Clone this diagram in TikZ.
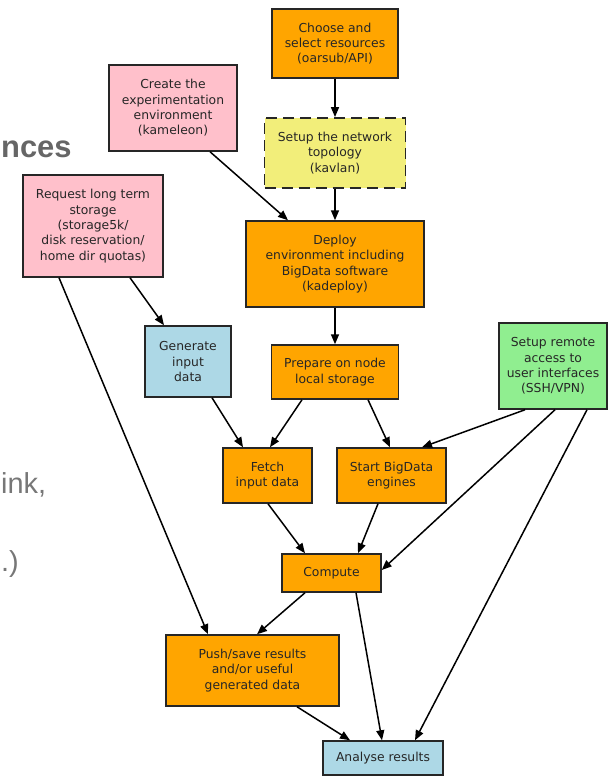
\documentclass[tikz,border=0pt]{standalone}
\usepackage{fontspec}
\setmainfont{DejaVu Sans}
\newfontfamily\slidefont{Liberation Sans}
\usetikzlibrary{arrows.meta}
\definecolor{boxorange}{HTML}{FFA500}
\definecolor{boxpink}{HTML}{FFC0CB}
\definecolor{boxblue}{HTML}{ADD8E6}
\definecolor{boxgreen}{HTML}{90EE90}
\definecolor{boxyellow}{HTML}{F2EE7A}
\definecolor{slidegray}{HTML}{666666}
\definecolor{slidegraylight}{HTML}{777777}
\tikzset{
  box/.style={draw=black!85, line width=1.5bp, align=center, inner sep=2bp,
    font=\fontsize{12.4}{15.4}\selectfont, text=black!85},
  arr/.style={draw=black, line width=1.5bp, -{Triangle[length=10bp,width=8bp]}},
  slidetext/.style={inner sep=0pt, anchor=base west, text=slidegraylight,
    font=\slidefont\fontsize{29}{34}\selectfont},
}
\begin{document}
\begin{tikzpicture}[x=1bp, y=-1bp]
\useasboundingbox (0,0) rectangle (609,776);

% slide text fragments
\node[slidetext, text=slidegray, font=\slidefont\bfseries\fontsize{31}{36}\selectfont] (t1) at (1,157) {nces};
\node[slidetext] (t2) at (1,493) {ink,};
\node[slidetext] (t3) at (1,571) {.)};

% nodes
\node[box, fill=boxorange, minimum width=126bp, minimum height=69bp] (choose) at (335,43.5)
  {Choose and\\select resources\\(oarsub/API)};
\node[box, fill=boxpink, minimum width=128bp, minimum height=86bp] (create) at (173,108)
  {Create the\\experimentation\\environment\\(kameleon)};
\node[box, fill=boxyellow, line width=1.8bp, dash pattern=on 11bp off 6bp, minimum width=141bp, minimum height=70bp] (network) at (335,153)
  {Setup the network\\topology\\(kavlan)};
\node[box, fill=boxpink, minimum width=140bp, minimum height=102bp] (request) at (93,226)
  {Request long term\\storage\\(storage5k/\\disk reservation/\\home dir quotas)};
\node[box, fill=boxorange, minimum width=178bp, minimum height=86bp] (deploy) at (335,264)
  {Deploy\\environment including\\BigData software\\(kadeploy)};
\node[box, fill=boxblue, minimum width=86bp, minimum height=71bp] (generate) at (188,361.5)
  {Generate\\input\\data};
\node[box, fill=boxorange, minimum width=127bp, minimum height=54bp] (prepare) at (335,372)
  {Prepare on node\\local storage};
\node[box, fill=boxgreen, minimum width=108bp, minimum height=86bp] (remote) at (553,366)
  {Setup remote\\access to\\user interfaces\\(SSH/VPN)};
\node[box, fill=boxorange, minimum width=89bp, minimum height=55bp] (fetch) at (267.5,475.5)
  {Fetch\\input data};
\node[box, fill=boxorange, minimum width=109bp, minimum height=55bp] (start) at (391.5,475.5)
  {Start BigData\\engines};
\node[box, fill=boxorange, minimum width=99bp, minimum height=38bp] (compute) at (331.5,573)
  {Compute};
\node[box, fill=boxorange, minimum width=173bp, minimum height=71bp] (push) at (252.5,670.5)
  {Push/save results\\and/or useful\\generated data};
\node[box, fill=boxblue, minimum width=120bp, minimum height=34bp] (analyse) at (383,758)
  {Analyse results};

% connectors
\draw[arr] (choose) -- (network);
\draw[arr] ([xshift=37bp]create.south) -- ([xshift=-47bp]deploy.north);
\draw[arr] (network) -- (deploy);
\draw[arr] ([xshift=37bp]request.south) -- ([xshift=-24bp]generate.north);
\draw[arr] ([xshift=-34bp]request.south) -- ([xshift=-44.5bp]push.north);
\draw[arr] (deploy) -- (prepare);
\draw[arr] ([xshift=24bp]generate.south) -- ([xshift=-24.5bp]fetch.north);
\draw[arr] ([xshift=-33bp]prepare.south) -- ([xshift=2.5bp]fetch.north);
\draw[arr] ([xshift=33bp]prepare.south) -- ([xshift=-1.5bp]start.north);
\draw[arr] ([xshift=-28bp]remote.south) -- ([xshift=30.5bp]start.north);
\draw[arr] ([xshift=2bp]remote.south) -- ([yshift=3bp]compute.east);
\draw[arr] ([xshift=34bp]remote.south) -- ([xshift=32bp]analyse.north);
\draw[arr] ([xshift=0.5bp]fetch.south) -- ([xshift=-26.5bp]compute.north);
\draw[arr] ([xshift=-13.5bp]start.south) -- ([xshift=26.5bp]compute.north);
\draw[arr] ([xshift=-26.5bp]compute.south) -- ([xshift=4.5bp]push.north);
\draw[arr] ([xshift=24.5bp]compute.south) -- ([xshift=-1bp]analyse.north);
\draw[arr] ([xshift=44.5bp]push.south) -- ([xshift=-33bp]analyse.north);
\end{tikzpicture}
\end{document}
